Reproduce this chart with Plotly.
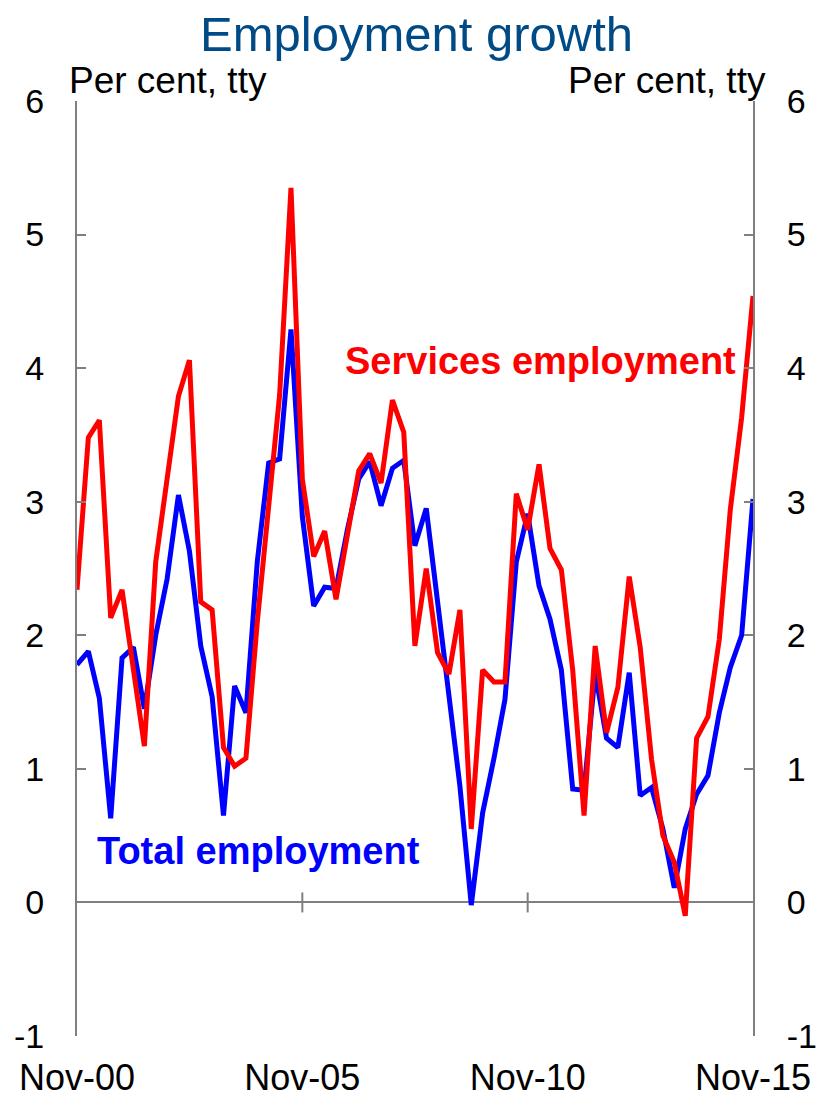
import pandas as pd
import plotly.graph_objects as go

# Quarterly observations, Nov-2000 to Nov-2015
quarters = pd.date_range("2000-11-01", periods=61, freq="3MS")

# Per cent, through-the-year growth
total_employment = [
    1.78, 1.88, 1.53, 0.63, 1.83, 1.91, 1.45, 2.00, 2.42, 3.05,
    2.63, 1.92, 1.54, 0.65, 1.62, 1.42, 2.55, 3.29, 3.32, 4.29,
    2.89, 2.22, 2.36, 2.35, 2.79, 3.17, 3.30, 2.97, 3.25, 3.31,
    2.67, 2.95, 2.25, 1.55, 0.87, -0.02, 0.67, 1.08, 1.52, 2.55,
    2.91, 2.37, 2.12, 1.74, 0.85, 0.84, 1.72, 1.23, 1.16, 1.72,
    0.80, 0.86, 0.55, 0.11, 0.55, 0.81, 0.95, 1.42, 1.76, 2.00,
    3.02,
]
services_employment = [
    2.34, 3.48, 3.61, 2.13, 2.34, 1.75, 1.17, 2.55, 3.17, 3.79,
    4.06, 2.25, 2.19, 1.16, 1.02, 1.08, 2.10, 2.97, 3.80, 5.35,
    3.17, 2.59, 2.78, 2.27, 2.74, 3.23, 3.36, 3.14, 3.76, 3.52,
    1.92, 2.50, 1.87, 1.71, 2.19, 0.55, 1.74, 1.65, 1.65, 3.06,
    2.79, 3.28, 2.65, 2.49, 1.74, 0.65, 1.92, 1.27, 1.61, 2.44,
    1.91, 1.07, 0.50, 0.30, -0.10, 1.23, 1.39, 1.97, 2.94, 3.63,
    4.54,
]

x_tick_dates = [quarters[0], quarters[20], quarters[40], quarters[60]]
x_tick_labels = ["Nov-00", "Nov-05", "Nov-10", "Nov-15"]
y_tick_vals = [-1, 0, 1, 2, 3, 4, 5, 6]
y_tick_labels = ["-1", "0", "1", "2", "3", "4", "5", "6"]

FONT = "Liberation Sans, Arial, sans-serif"
GREY = "#808080"

fig = go.Figure()
fig.add_trace(go.Scatter(
    x=quarters, y=total_employment, mode="lines",
    line=dict(color="#0000FF", width=5), name="Total employment",
    yaxis="y",
))
# same scale on both sides; services series drawn against the right axis
fig.add_trace(go.Scatter(
    x=quarters, y=services_employment, mode="lines",
    line=dict(color="#FF0000", width=5), name="Services employment",
    yaxis="y2",
))

yaxis_style = dict(
    range=[-1, 6], tickvals=y_tick_vals, ticktext=y_tick_labels,
    ticks="inside", ticklen=9, tickwidth=2, tickcolor=GREY,
    showline=True, linecolor=GREY, linewidth=2, showgrid=False,
    tickfont=dict(family=FONT, size=34, color="black"),
    fixedrange=True, automargin=False,
)

fig.update_layout(
    width=818, height=1098, autosize=False,
    margin=dict(l=77, r=65, t=101, b=62),
    paper_bgcolor="white", plot_bgcolor="white",
    showlegend=False,
    xaxis=dict(
        type="date", range=[quarters[0], quarters[-1]],
        tickvals=x_tick_dates, ticktext=x_tick_labels,
        ticks="", showline=False, showgrid=False, zeroline=False,
        tickfont=dict(family=FONT, size=36, color="black"),
        ticklabelstandoff=17, automargin=False,
    ),
    yaxis=dict(**yaxis_style, ticklabelstandoff=24,
               zeroline=True, zerolinecolor=GREY, zerolinewidth=2),
    yaxis2=dict(**yaxis_style, ticklabelstandoff=25,
                overlaying="y", side="right", zeroline=False),
)

# tick marks crossing the zero line at each labelled date
for d in x_tick_dates[1:3]:
    fig.add_shape(
        type="line", xref="x", yref="y", x0=d, x1=d,
        ysizemode="pixel", yanchor=0, y0=-10, y1=10,
        line=dict(color=GREY, width=2),
    )

annotations = [
    dict(text="Employment growth", x=0.5015, y=1.0721, xanchor="center", yanchor="middle",
         font=dict(family=FONT, size=49, color="#004A85")),
    dict(text="Per cent, tty", x=-0.0148, y=1.0214, xanchor="left", yanchor="middle",
         font=dict(family=FONT, size=37, color="black")),
    dict(text="Per cent, tty", x=1.022, y=1.0214, xanchor="right", yanchor="middle",
         font=dict(family=FONT, size=37, color="black")),
    dict(text="<b>Services employment</b>", x=0.3935, y=0.722, xanchor="left", yanchor="middle",
         font=dict(family=FONT, size=38, color="#FF0000")),
    dict(text="<b>Total employment</b>", x=0.0266, y=0.198, xanchor="left", yanchor="middle",
         font=dict(family=FONT, size=38, color="#0000FF")),
]
for a in annotations:
    fig.add_annotation(xref="paper", yref="paper", showarrow=False, **a)

fig.write_html("out.html")
